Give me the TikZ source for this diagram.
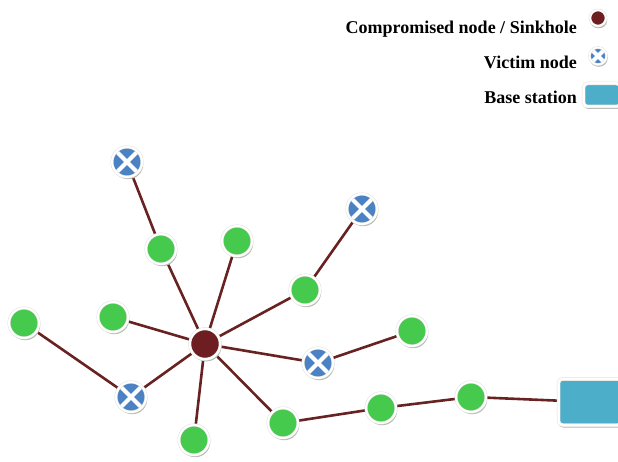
\documentclass[tikz,border=0pt]{standalone}
\usepackage{fontspec}
\setmainfont{Liberation Serif}
\usetikzlibrary{shadows,backgrounds}

\definecolor{linkred}{RGB}{105,34,34}
\definecolor{sinkred}{RGB}{110,30,32}
\definecolor{nodegreen}{RGB}{70,202,78}
\definecolor{victimblue}{RGB}{74,130,196}
\definecolor{basecyan}{RGB}{76,174,200}
\definecolor{shadowgray}{RGB}{178,186,172}
\definecolor{rimgray}{RGB}{222,224,220}

\tikzset{
  x=1pt, y=-1pt,
  rim/.style={circle, inner sep=0pt, draw=rimgray, line width=0.5pt,
    double=white, double distance=2pt,
    drop shadow={shadow xshift=1.2pt, shadow yshift=-2.2pt, fill=shadowgray, opacity=1}},
  sensor/.style={rim, minimum size=30pt, fill=nodegreen},
  victim/.style={rim, minimum size=30pt, fill=victimblue,
    path picture={
      \draw[white, line width=4.2pt]
        (path picture bounding box.north west) -- (path picture bounding box.south east)
        (path picture bounding box.north east) -- (path picture bounding box.south west);}},
  sinkhole/.style={rim, minimum size=30.5pt, fill=sinkred},
  basestation/.style={rectangle, rounded corners=4pt, draw=rimgray, line width=0.5pt,
    double=white, double distance=2.5pt, fill=basecyan, inner sep=0pt,
    drop shadow={shadow xshift=0.5pt, shadow yshift=-2.5pt, fill=gray!55, opacity=1}},
  link/.style={draw=linkred, line width=2.6pt},
  legendtext/.style={anchor=east, inner sep=0pt,
    font=\fontsize{18}{20}\selectfont\bfseries}
}

\begin{document}
\begin{tikzpicture}
\useasboundingbox (0,0) rectangle (618,462);

% legend
\node[legendtext] (lt1) at (577,29) {Compromised node / Sinkhole};
\node[legendtext] (lt2) at (577,62) {Victim node};
\node[legendtext] (lt3) at (577,97) {Base station};
\node[sinkhole, minimum size=16pt, double distance=1.6pt,
  drop shadow={shadow xshift=0pt, shadow yshift=-2.2pt, fill=red!25!gray!50, opacity=1}]
  (ls) at (598,18) {};
\node[victim, minimum size=17pt, double distance=1.6pt,
  drop shadow={shadow xshift=0pt, shadow yshift=-2.2pt, fill=gray!45, opacity=1}]
  (lv) at (598,56) {};
\node[basestation, minimum width=37pt, minimum height=23pt] (lb) at (602,95) {};

% network nodes
\node[sinkhole] (S) at (205,344) {};

\node[victim] (v1) at (127,162) {};
\node[victim] (v2) at (362,209) {};
\node[victim] (v3) at (318,363) {};
\node[victim] (v4) at (131,397) {};

\node[sensor] (g1) at (161,249) {};
\node[sensor] (g2) at (237,241) {};
\node[sensor] (g3) at (305,290) {};
\node[sensor] (g4) at (113,317) {};
\node[sensor] (g5) at (24,323) {};
\node[sensor] (g6) at (412,331) {};
\node[sensor] (g7) at (194,440) {};
\node[sensor] (g8) at (283,423) {};
\node[sensor] (g9) at (381,408) {};
\node[sensor] (g10) at (471,397) {};

\node[basestation, minimum width=63pt, minimum height=46pt] (B) at (590,402) {};

% links
\begin{scope}[on background layer]
  \draw[link] (v1.center) -- (g1.center) -- (S.center);
  \draw[link] (g2.center) -- (S.center);
  \draw[link] (S.center) -- (g3.center) -- (v2.center);
  \draw[link] (g4.center) -- (S.center);
  \draw[link] (S.center) -- (v3.center) -- (g6.center);
  \draw[link] (S.center) -- (v4.center) -- (g5.center);
  \draw[link] (S.center) -- (g7.center);
  \draw[link] (S.center) -- (g8.center) -- (g9.center) -- (g10.center) -- (B.center);
\end{scope}
\end{tikzpicture}
\end{document}
